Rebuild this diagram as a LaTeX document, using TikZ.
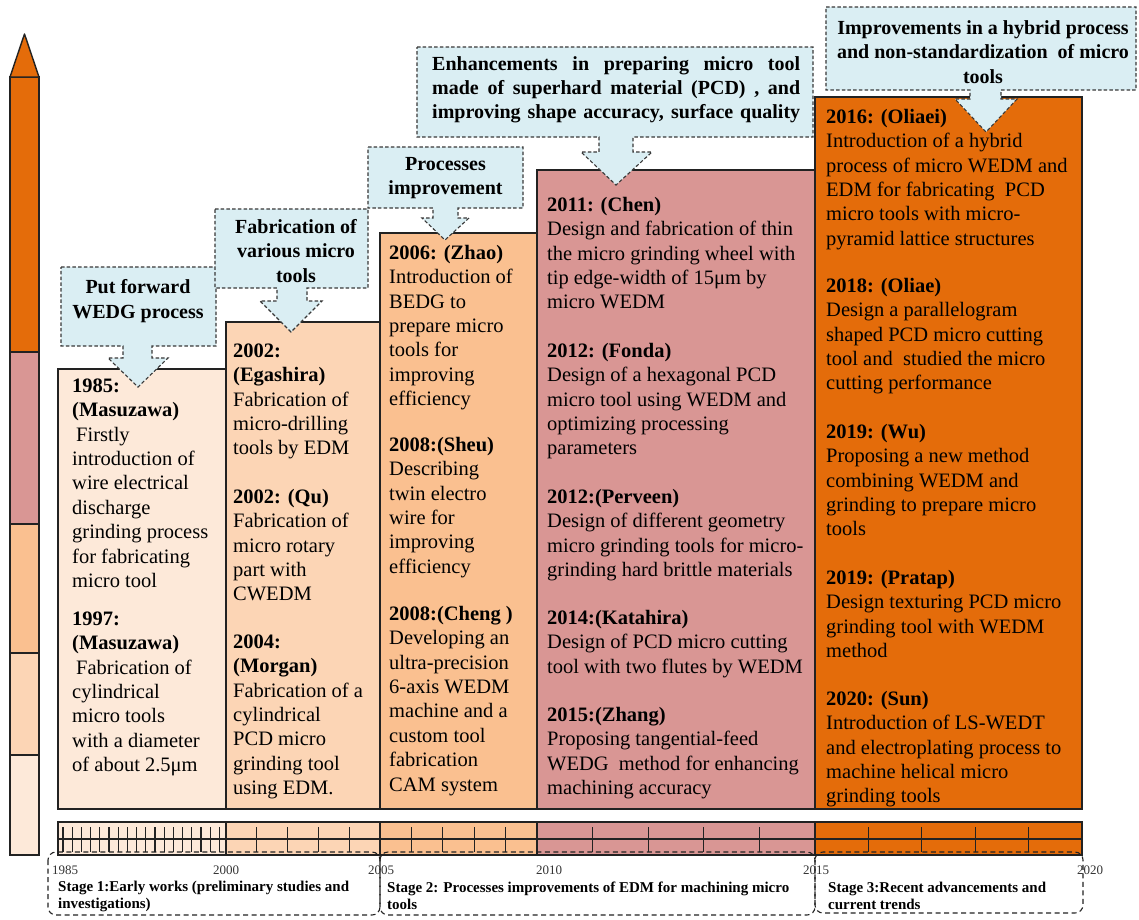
\documentclass[tikz,border=0pt]{standalone}
\usepackage{fontspec}
\setmainfont{Liberation Serif}
\definecolor{cOrange}{HTML}{E46C0A}
\definecolor{cPink}{HTML}{D99694}
\definecolor{cLOrange}{HTML}{FAC090}
\definecolor{cLighter}{HTML}{FCD5B5}
\definecolor{cLightest}{HTML}{FDE9D9}
\definecolor{cBlue}{HTML}{DAEEF3}
\definecolor{cLine}{HTML}{222222}
\newcommand\jline[1]{\makebox[368pt][s]{#1}}
\begin{document}
\begin{tikzpicture}[x=1pt,y=-1pt,
  boxline/.style={draw=cLine, line width=1.4pt},
  callout/.style={draw=cLine!90, fill=cBlue, line width=1.1pt, dash pattern=on 3.5pt off 2.2pt},
  stagebox/.style={draw=cLine, line width=1.1pt, dash pattern=on 5pt off 3.5pt, rounded corners=8pt},
  bodytext/.style={anchor=north west, inner sep=0pt, align=left, font=\fontsize{20.5}{24.4}\selectfont},
  calltext/.style={inner sep=0pt, align=center, font=\bfseries\fontsize{20}{24.2}\selectfont},
  stagetext/.style={anchor=north west, inner sep=0pt, align=left, font=\bfseries\fontsize{15}{17.5}\selectfont},
  yeartext/.style={anchor=base, inner sep=0pt, text=black!80, font=\fontsize{13}{15}\selectfont},
  tick/.style={draw=cLine, line width=1.1pt}
]
\useasboundingbox (0,0) rectangle (1139,919);

% ---------- left colour bar ----------
\path[fill=cOrange, boxline] (10,77) rectangle (39,352);
\path[fill=cPink, boxline] (10,352) rectangle (39,524);
\path[fill=cLOrange, boxline] (10,524) rectangle (39,653);
\path[fill=cLighter, boxline] (10,653) rectangle (39,755);
\path[fill=cLightest, boxline] (10,755) rectangle (39,855);
\path[fill=cOrange, boxline, line join=round] (10,77) -- (24.5,34) -- (39,77) -- cycle;

% ---------- main boxes ----------
\path[fill=cLightest, boxline] (58,369) rectangle (226,809);
\path[fill=cLighter, boxline] (226,322) rectangle (380,809);
\path[fill=cLOrange, boxline] (380,233) rectangle (537,809);
\path[fill=cPink, boxline] (537,170) rectangle (815,809);
\path[fill=cOrange, boxline] (815,97) rectangle (1082,809);

% ---------- timeline bar ----------
\path[fill=cLightest] (58,822) rectangle (226,855);
\path[fill=cLighter] (226,822) rectangle (380,855);
\path[fill=cLOrange] (380,822) rectangle (537,855);
\path[fill=cPink] (537,822) rectangle (815,855);
\path[fill=cOrange] (815,822) rectangle (1082,855);
\draw[boxline] (58,822) rectangle (1082,855);
\draw[boxline] (58,839) -- (1082,839);
\foreach \xx in {226,380,537,815} \draw[boxline] (\xx,822) -- (\xx,855);
\foreach \k in {0,...,17} \draw[tick] ({63+9.2*\k},827) -- ({63+9.2*\k},852);
\foreach \k in {1,...,4} {
  \draw[tick] ({226+30.8*\k},827) -- ({226+30.8*\k},852);
  \draw[tick] ({380+31.4*\k},827) -- ({380+31.4*\k},852);
  \draw[tick] ({537+55.6*\k},827) -- ({537+55.6*\k},852);
  \draw[tick] ({815+53.4*\k},827) -- ({815+53.4*\k},852);
}

% ---------- stage boxes ----------
\draw[stagebox] (48,852) rectangle (380,915);
\draw[stagebox] (380,852) rectangle (815,915);
\draw[stagebox] (815,852) rectangle (1083,913);

% ---------- callouts ----------
\path[callout] (61,267) -- (216,267) -- (216,346) -- (152,346) -- (152,358) -- (168,358) -- (138,387) -- (108,358) -- (123,358) -- (123,346) -- (61,346) -- cycle;
\path[callout] (215,209) -- (368,209) -- (368,288) -- (307,288) -- (307,301) -- (322,301) -- (291,332) -- (260,301) -- (277,301) -- (277,288) -- (215,288) -- cycle;
\path[callout] (368,147) -- (523,147) -- (523,208) -- (458,208) -- (458,218) -- (469,218) -- (445,240) -- (422,218) -- (433,218) -- (433,208) -- (368,208) -- cycle;
\path[callout] (417,47) -- (813,47) -- (813,137) -- (633,137) -- (633,152) -- (652,152) -- (616,185) -- (581,152) -- (599,152) -- (599,137) -- (417,137) -- cycle;
\path[callout] (826,7) -- (1136,7) -- (1136,90) -- (1001,90) -- (1001,99) -- (1017,99) -- (986,132) -- (955,99) -- (970,99) -- (970,90) -- (826,90) -- cycle;

\node[calltext] (c1) at (138,301) {Put forward\\WEDG process};
\node[calltext] (c2) at (296,251) {Fabrication of\\various micro\\tools};
\node[calltext] (c3) at (445.5,178) {Processes\\improvement};
\node[calltext, anchor=west, align=left] (c4) at (432,90) {\jline{Enhancements in preparing micro tool}\\\jline{made of superhard material (PCD) , and}\\\jline{improving shape accuracy, surface quality}};
\node[calltext] (c5) at (983,52) {Improvements in a hybrid process\\and non-standardization\ \ of micro\\tools};

% ---------- box 1 ----------
\node[bodytext] (b1a) at (72,375) {\strut\textbf{1985:}\\\textbf{(Masuzawa)}\\\hspace{4pt}Firstly\\introduction of\\wire electrical\\discharge\\grinding process\\for fabricating\\micro tool};
\node[bodytext] (b1b) at (72,608) {\strut\textbf{1997:}\\\textbf{(Masuzawa)}\\\hspace{4pt}Fabrication of\\cylindrical\\micro tools\\with a diameter\\of about 2.5μm};

% ---------- box 2 ----------
\node[bodytext] (b2a) at (233,340) {\strut\textbf{2002:}\\\textbf{(Egashira)}\\Fabrication of\\micro-drilling\\tools by EDM};
\node[bodytext] (b2b) at (233,486) {\strut\textbf{2002: (Qu)}\\Fabrication of\\micro rotary\\part with\\CWEDM};
\node[bodytext] (b2c) at (233,631) {\strut\textbf{2004:}\\\textbf{(Morgan)}\\Fabrication of a\\cylindrical\\PCD micro\\grinding tool\\using EDM.};

% ---------- box 3 ----------
\node[bodytext] (b3a) at (389,242) {\strut\textbf{2006: (Zhao)}\\Introduction of\\BEDG to\\prepare micro\\tools for\\improving\\efficiency};
\node[bodytext] (b3b) at (389,434) {\strut\textbf{2008:(Sheu)}\\Describing\\twin electro\\wire for\\improving\\efficiency};
\node[bodytext] (b3c) at (389,603) {\strut\textbf{2008:(Cheng )}\\Developing an\\ultra-precision\\6-axis WEDM\\machine and a\\custom tool\\fabrication\\CAM system};

% ---------- box 4 ----------
\node[bodytext] (b4a) at (547,194) {\strut\textbf{2011: (Chen)}\\Design and fabrication of thin\\the micro grinding wheel with\\tip edge-width of 15μm by\\micro WEDM};
\node[bodytext] (b4b) at (547,340) {\strut\textbf{2012: (Fonda)}\\Design of a hexagonal PCD\\micro tool using WEDM and\\optimizing processing\\parameters};
\node[bodytext] (b4c) at (547,486) {\strut\textbf{2012:(Perveen)}\\Design of different geometry\\micro grinding tools for micro-\\grinding hard brittle materials};
\node[bodytext] (b4d) at (547,607) {\strut\textbf{2014:(Katahira)}\\Design of PCD micro cutting\\tool with two flutes by WEDM};
\node[bodytext] (b4e) at (547,704) {\strut\textbf{2015:(Zhang)}\\Proposing tangential-feed\\WEDG\ \ method for enhancing\\machining accuracy};

% ---------- box 5 ----------
\node[bodytext] (b5a) at (826,106) {\strut\textbf{2016: (Oliaei)}\\Introduction of a hybrid\\process of micro WEDM and\\EDM for fabricating\ \ PCD\\micro tools with micro-\\pyramid lattice structures};
\node[bodytext] (b5b) at (826,275) {\strut\textbf{2018: (Oliae)}\\Design a parallelogram\\shaped PCD micro cutting\\tool and\ \ studied the micro\\cutting performance};
\node[bodytext] (b5c) at (826,421) {\strut\textbf{2019: (Wu)}\\Proposing a new method\\combining WEDM and\\grinding to prepare micro\\tools};
\node[bodytext] (b5d) at (826,567) {\strut\textbf{2019: (Pratap)}\\Design texturing PCD micro\\grinding tool with WEDM\\method};
\node[bodytext] (b5e) at (826,688) {\strut\textbf{2020: (Sun)}\\Introduction of LS-WEDT\\and electroplating process to\\machine helical micro\\grinding tools};

% ---------- years ----------
\node[yeartext, anchor=base west] (y1985) at (52,874) {1985};
\node[yeartext] (y2000) at (226,874) {2000};
\node[yeartext] (y2005) at (381,874) {2005};
\node[yeartext, anchor=base west] (y2010) at (536,874) {2010};
\node[yeartext] (y2015) at (816,874) {2015};
\node[yeartext, anchor=base west] (y2020) at (1077,874) {2020};

% ---------- stage labels ----------
\node[stagetext] (s1) at (58,879) {\strut Stage 1:Early works (preliminary studies and\\investigations)};
\node[stagetext] (s2) at (387,880) {\strut Stage 2: Processes improvements of EDM for machining micro\\tools};
\node[stagetext] (s3) at (828,880) {\strut Stage 3:Recent advancements and\\current trends};
\end{tikzpicture}
\end{document}
